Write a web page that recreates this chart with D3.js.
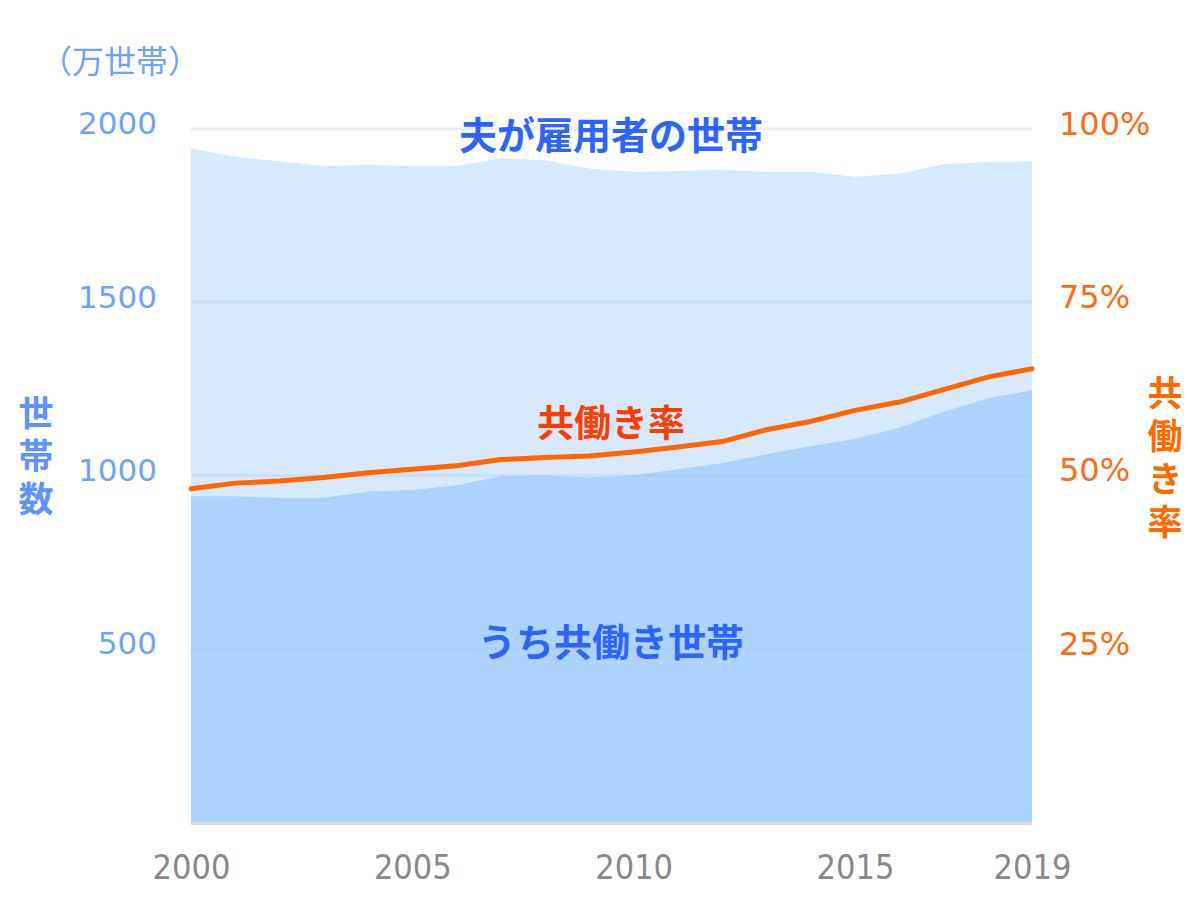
<!DOCTYPE html>
<html><head><meta charset="utf-8">
<script src="https://cdn.jsdelivr.net/npm/d3@7"></script>
<style>
body{margin:0;background:#fff;}
svg{display:block;font-family:"DejaVu Sans","Noto Sans CJK JP",sans-serif;}
</style></head>
<body><svg id="c" width="1200" height="899"></svg>
<script>
const years = [2000,2001,2002,2003,2004,2005,2006,2007,2008,2009,2010,2011,2012,2013,2014,2015,2016,2017,2018,2019];
const totalHouseholds = [1944,1919,1907,1893,1896,1893,1893,1915,1910,1886,1876,1879,1883,1876,1876,1862,1871,1898,1905,1907];
const dualHouseholds = [940,940,936,936,953,958,972,998,1000,994,1001,1018,1035,1061,1085,1105,1138,1184,1222,1246];
const dualRate = [48.1,48.9,49.2,49.7,50.4,50.9,51.4,52.3,52.6,52.8,53.4,54.1,54.9,56.6,57.8,59.4,60.6,62.4,64.2,65.4];
const leftTicks = [500,1000,1500,2000];
const rightTicks = [25,50,75,100];
const xTicks = [2000,2005,2010,2015,2019];

const svg = d3.select("#c");
const x = d3.scaleLinear().domain([2000,2019]).range([191,1032]);
const y = d3.scaleLinear().domain([0,2000]).range([822,129]);
const yR = d3.scaleLinear().domain([0,100]).range([822,129]);
const jp = '"Noto Sans CJK JP",sans-serif';

// areas
const data = years.map((yr,i)=>({yr,t:totalHouseholds[i],d:dualHouseholds[i],r:dualRate[i]}));
svg.append("path").datum(data).attr("fill","#d6e9fe")
  .attr("d",d3.area().x(d=>x(d.yr)).y0(y(0)).y1(d=>y(d.t)));
svg.append("path").datum(data).attr("fill","#acd4fe")
  .attr("d",d3.area().x(d=>x(d.yr)).y0(y(0)).y1(d=>y(d.d)));

// grid
const g = svg.append("g");
g.selectAll("line").data(leftTicks).join("line")
  .attr("x1",191).attr("x2",1032).attr("y1",d=>y(d)).attr("y2",d=>y(d))
  .attr("stroke",d=>d===2000?"#eeeeee":"rgba(150,185,225,0.18)").attr("stroke-width",3);
// baseline
svg.append("line").attr("x1",191).attr("x2",1032).attr("y1",y(0)+1.5).attr("y2",y(0)+1.5)
  .attr("stroke","#dcdcdc").attr("stroke-width",3);

// rate line
svg.append("path").datum(data).attr("fill","none").attr("stroke","#ff6600").attr("stroke-width",5)
  .attr("stroke-linejoin","round").attr("stroke-linecap","round")
  .attr("d",d3.line().x(d=>x(d.yr)).y(d=>yR(d.r)));

// left axis
const la = d3.axisLeft(y).tickValues(leftTicks).tickSize(0).tickPadding(0).tickFormat(d3.format("d"));
const lg = svg.append("g").attr("transform","translate(157,-5)").call(la);
lg.select(".domain").remove();
lg.selectAll("text").attr("fill","#6ea2ff").style("font-size","31px").style("font-family","DejaVu Sans");

// right axis
const ra = d3.axisRight(yR).tickValues(rightTicks).tickSize(0).tickPadding(0).tickFormat(d=>d+"%");
const rg = svg.append("g").attr("transform","translate(1059,-5)").call(ra);
rg.select(".domain").remove();
rg.selectAll("text").attr("fill","#ff6a14").style("font-size","32px").style("font-family","DejaVu Sans");

// x axis
const xa = d3.axisBottom(x).tickValues(xTicks).tickSize(0).tickPadding(0).tickFormat(d3.format("d"));
const xg = svg.append("g").attr("transform","translate(0,855)").call(xa);
xg.select(".domain").remove();
xg.selectAll("text").attr("fill","#888888").style("font-size","34px").style("font-family","DejaVu Sans Condensed, DejaVu Sans");

// unit label
svg.append("text").attr("x",120).attr("y",73).attr("text-anchor","middle")
  .attr("fill","#6ea2ff").style("font-size","32px").style("font-family",jp).text("（万世帯）");

// series labels
svg.append("text").attr("x",611).attr("y",149).attr("text-anchor","middle")
  .attr("fill","#2d64ff").style("font-size","38px").style("font-weight","bold").style("font-family",jp).text("夫が雇用者の世帯");
svg.append("text").attr("x",611).attr("y",437).attr("text-anchor","middle")
  .attr("fill","#ff3c00").style("font-size","37px").style("font-weight","bold").style("font-family",jp).text("共働き率");
svg.append("text").attr("x",611).attr("y",656).attr("text-anchor","middle")
  .attr("fill","#2d64ff").style("font-size","38px").style("font-weight","bold").style("font-family",jp).text("うち共働き世帯");

// vertical titles
const leftTitle = "世帯数";
svg.append("text").attr("x",36).attr("y",395)
  .style("writing-mode","vertical-rl").style("letter-spacing","8px")
  .attr("fill","#5e92ff").style("font-size","35px").style("font-weight","bold").style("font-family",jp).text(leftTitle);
const rightTitle = "共働き率";
svg.append("text").attr("x",1165).attr("y",375)
  .style("writing-mode","vertical-rl").style("letter-spacing","8px")
  .attr("fill","#ff6a00").style("font-size","35px").style("font-weight","bold").style("font-family",jp).text(rightTitle);
</script></body></html>
